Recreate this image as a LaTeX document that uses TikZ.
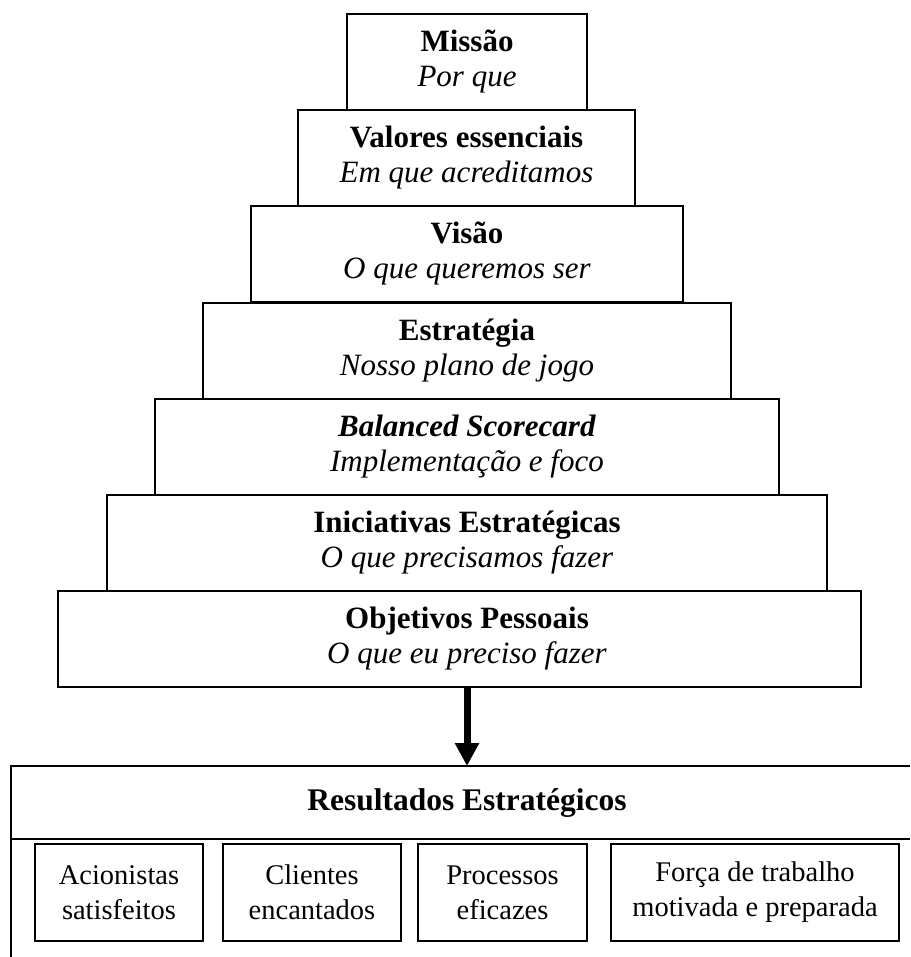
\documentclass[tikz,border=0pt]{standalone}
\usepackage{fontspec}
\setmainfont{Liberation Serif}
\usetikzlibrary{arrows.meta}
\tikzset{
  tier/.style={draw, line width=1.8pt, minimum height=96pt, inner sep=0pt, align=center,
    font=\fontsize{31}{35}\selectfont},
  tiertext/.style={inner sep=0pt, align=center, font=\fontsize{31}{35}\selectfont},
  goal/.style={draw, line width=1.8pt, minimum height=97pt, inner sep=0pt, align=center,
    font=\fontsize{28.5}{35}\selectfont},
  frame/.style={line width=1.8pt},
  bigarrow/.style={line width=7pt, -{Triangle[length=23pt,width=23pt]}}
}
\begin{document}
\begin{tikzpicture}[x=1pt,y=-1pt]
\useasboundingbox (0,0) rectangle (910,957);
\node[tier, minimum width=240pt] (m) at (467,62) {\textbf{Missão}\\\textit{Por que}};
\node[tier, minimum width=337pt] (v) at (466.5,158) {\textbf{Valores essenciais}\\\textit{Em que acreditamos}};
\node[tier, minimum width=432pt] (vi) at (467,254) {\textbf{Visão}\\\textit{O que queremos ser}};
\node[tier, minimum width=528pt] (e) at (467,351) {\textbf{Estratégia}\\\textit{Nosso plano de jogo}};
\node[tier, minimum width=624pt] (b) at (467,447) {\textbf{\textit{Balanced Scorecard}}\\\textit{Implementação e foco}};
\node[tier, minimum width=720pt] (i) at (467,543) {\textbf{Iniciativas Estratégicas}\\\textit{O que precisamos fazer}};
\node[tier, minimum width=803pt] (o) at (459.5,639) {};
\node[tiertext] (ot) at (467,639) {\textbf{Objetivos Pessoais}\\\textit{O que eu preciso fazer}};
% result frame
\coordinate (rt) at (467,766);
\coordinate (os) at (467,687);
\draw[frame] (11,957) -- (11,766) -- (910,766);
\draw[frame] (11,839) -- (910,839);
\node[font=\fontsize{31.5}{35}\selectfont\bfseries] (r) at (467,803) {Resultados Estratégicos};
\draw[bigarrow] (os) -- (rt);
\node[goal, minimum width=168pt] (g1) at (119,892.5) {Acionistas\\satisfeitos};
\node[goal, minimum width=178pt] (g2) at (312,892.5) {Clientes\\encantados};
\node[goal, minimum width=169pt] (g3) at (502.5,892.5) {Processos\\eficazes};
\node[goal, minimum width=288pt] (g4) at (755,892.5) {Força de trabalho\\motivada e preparada};
\end{tikzpicture}
\end{document}
